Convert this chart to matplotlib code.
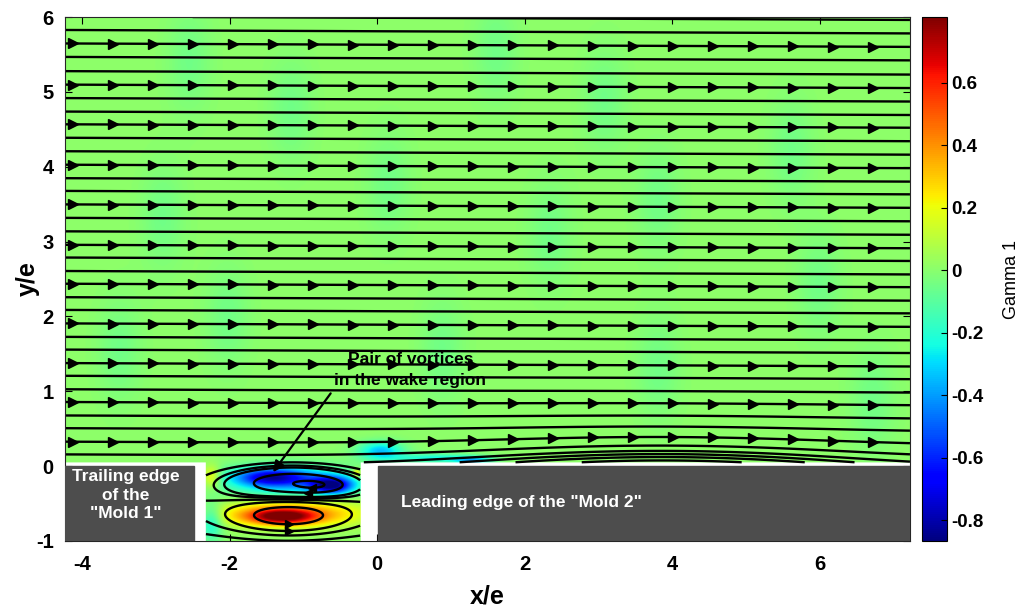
import numpy as np
import matplotlib.pyplot as plt
import matplotlib as mpl

plt.rcParams['font.family'] = ['Liberation Sans', 'DejaVu Sans']
plt.rcParams['axes.unicode_minus'] = False

# frame
x_lim = [-4.23, 7.22]
y_lim = [-1.0, 6.0]
x_ticks = [-4, -2, 0, 2, 4, 6]
y_ticks = [-1, 0, 1, 2, 3, 4, 5, 6]
gamma_lim = [-0.867, 0.81]
gamma_ticks = [-0.8, -0.6, -0.4, -0.2, 0, 0.2, 0.4, 0.6]

# Gamma 1 structures: centre, amplitude, half widths
blob_x = [-1.45, -0.62, -1.20, -1.30, -1.15, -2.25, -2.25, -0.28, 0.05, 0.80, 1.30]
blob_y = [-0.15, -0.26, -0.20, -0.68, -0.64, -0.15, -0.75, -0.10, 0.20, 0.10, 0.07]
blob_amp = [-0.50, -0.75, -0.40, 0.60, 0.40, 0.25, -0.25, 0.30, -0.35, -0.25, -0.30]
blob_sx = [0.45, 0.28, 0.85, 0.45, 0.95, 0.12, 0.15, 0.06, 0.30, 0.60, 0.25]
blob_sy = [0.11, 0.11, 0.20, 0.10, 0.17, 0.15, 0.25, 0.06, 0.12, 0.06, 0.05]
gamma_background = 0.01

# faint light-cyan bands in the free stream
band_x = [-2.55, -1.17, 1.61, 3.08, 0.15, -2.91, 2.34, 5.62, 5.99, -2.03, 0.88, 3.81, 6.72, -3.50, 3.81]
band_y = [5.43, 4.76, 5.56, 4.89, 3.77, 3.33, 3.10, 4.22, 2.43, 1.99, 1.55, 1.32, 0.88, 1.55, 3.56]
band_amp = -0.06

# streamline levels of the outer flow (y/e at seed)
stream_levels = [0.14, 0.31, 0.49, 0.66, 0.84, 1.01, 1.19, 1.36, 1.54, 1.71,
                 1.89, 2.07, 2.24, 2.42, 2.59, 2.77, 2.94, 3.12, 3.30, 3.48,
                 3.66, 3.83, 4.01, 4.19, 4.37, 4.55, 4.72, 4.90, 5.08, 5.26,
                 5.45, 5.63, 5.81, 5.99]
arrow_levels = [0.31, 0.84, 1.36, 1.89, 2.42, 2.94, 3.48, 4.01, 4.55, 5.08, 5.63]
near_wall_levels = [-0.24, -0.14, -0.06, 0.02]
stream_tilt = 0.004
hump_x, hump_w, hump_amp, hump_depth = 3.9, 2.6, 0.45, 0.25

# recirculation in the wake: stream function bumps
vort_x = [-1.15, -0.75, -1.20]
vort_y = [-0.22, -0.26, -0.66]
vort_s = [-0.5, -0.15, 0.5]
vort_ax = [0.90, 0.35, 0.75]
vort_ay = [0.22, 0.10, 0.20]
wake_base = 0.2
wake_levels = [-0.58, -0.40, -0.22, -0.17, -0.10, 0.0, 0.20]
wake_box = [-2.32, -0.22]

# grid
xg = np.linspace(x_lim[0], x_lim[1], 900)
yg = np.linspace(y_lim[0], y_lim[1], 560)
X, Y = np.meshgrid(xg, yg)

gamma = np.full_like(X, gamma_background)
for bx, by, a, sx, sy in zip(blob_x, blob_y, blob_amp, blob_sx, blob_sy):
    gamma += a * np.exp(-((X - bx) / sx) ** 2 - ((Y - by) / sy) ** 2)
for bx, by in zip(band_x, band_y):
    gamma += band_amp * np.exp(-((X - bx) / 0.3) ** 2 - ((Y - by) / 0.7) ** 2)

in_wake = (X > wake_box[0]) & (X < wake_box[1])
no_data = ((X <= wake_box[0]) & (Y < 0.04)) | ((X >= wake_box[1]) & (Y < 0.05))
gamma[no_data] = np.nan

psi = Y + stream_tilt * X - hump_amp * np.exp(-((X - hump_x) / hump_w) ** 2) * np.exp(-Y / hump_depth)
psi = np.ma.masked_where(Y < 0.05, psi)

psi_w = wake_base * Y
for vx, vy, s, ax_, ay_ in zip(vort_x, vort_y, vort_s, vort_ax, vort_ay):
    psi_w = psi_w + s * np.exp(-((X - vx) / ax_) ** 2 - ((Y - vy) / ay_) ** 2)
psi_w = np.ma.masked_where(~in_wake | (Y > 0.06), psi_w)

fig = plt.figure(figsize=(10.23, 6.08), dpi=100)
ax = fig.add_axes([0.0635, 0.1102, 0.826, 0.8618])
cax = fig.add_axes([0.901, 0.1102, 0.0244, 0.8618])

cmap = mpl.colormaps['jet'].copy()
cmap.set_bad('white')
im = ax.imshow(np.ma.masked_invalid(gamma), extent=[x_lim[0], x_lim[1], y_lim[0], y_lim[1]],
               origin='lower', cmap=cmap, vmin=gamma_lim[0], vmax=gamma_lim[1],
               aspect='auto', interpolation='bilinear', zorder=0)

lw = 1.7
cs = ax.contour(X, Y, psi, levels=sorted(near_wall_levels + stream_levels), colors='black',
                linewidths=lw, linestyles='solid', zorder=2)
cw = ax.contour(X, Y, psi_w, levels=wake_levels, colors='black', linewidths=lw,
                linestyles='solid', zorder=2)

# arrow heads on every third outer streamline
arrow_x = np.arange(-4.12, 6.8, 0.542)
all_levels = np.array(cs.levels)
for lev in arrow_levels:
    i = int(np.argmin(np.abs(all_levels - lev)))
    segs = cs.allsegs[i]
    if not segs:
        continue
    seg = max(segs, key=len)
    order = np.argsort(seg[:, 0])
    ya = np.interp(arrow_x, seg[order, 0], seg[order, 1])
    ax.plot(arrow_x, ya, ls='none', marker='>', color='black', markersize=6.5, zorder=3)

# arrow heads on the bottom of each closed wake loop
for lev, segs in zip(cw.levels, cw.allsegs):
    for seg in segs:
        if len(seg) < 10 or np.hypot(*(seg[0] - seg[-1])) > 0.05:
            continue
        lo = seg[np.argmin(seg[:, 1])]
        ax.plot(lo[0], lo[1], ls='none', marker='<' if lev < 0 else '>',
                color='black', markersize=6, zorder=3)

# the two molds
mold_grey = '#4d4d4d'
ax.add_patch(plt.Rectangle((x_lim[0], -1.0), -2.48 - x_lim[0], 1.0, color=mold_grey, zorder=4))
ax.add_patch(plt.Rectangle((0.01, -1.0), x_lim[1] - 0.01, 1.0, color=mold_grey, zorder=4))
ax.text(-3.41, -0.39, 'Trailing edge\nof the\n"Mold 1"', color='white', fontsize=12.5,
        fontweight='bold', ha='center', va='center', linespacing=1.3, zorder=5)
ax.text(0.32, -0.49, 'Leading edge of the "Mold 2"', color='white', fontsize=12.5,
        fontweight='bold', ha='left', va='center', zorder=5)

ax.annotate('Pair of vortices\nin the wake region', xy=(-1.41, -0.08), xytext=(0.45, 1.28),
            fontsize=12.5, fontweight='bold', ha='center', va='center', linespacing=1.5,
            arrowprops=dict(arrowstyle='-|>', color='black', lw=1.6, mutation_scale=16,
                            shrinkA=2, shrinkB=0, relpos=(0.0, 0.0)),
            zorder=6)

ax.set_xlim(x_lim)
ax.set_ylim(y_lim)
ax.set_xticks(x_ticks)
ax.set_yticks(y_ticks)
ax.tick_params(direction='in', top=True, right=True, length=5, labelsize=14.5, pad=10)
ax.tick_params(axis='y', pad=8)
for lab in ax.get_xticklabels() + ax.get_yticklabels():
    lab.set_fontweight('bold')
ax.set_xlabel('x/e', fontsize=18, fontweight='bold', labelpad=8)
ax.set_ylabel('y/e', fontsize=18, fontweight='bold')
ax.yaxis.set_label_coords(-0.03, 0.5)
for sp in ax.spines.values():
    sp.set_color('#262626')
    sp.set_linewidth(0.8)

cb = fig.colorbar(im, cax=cax)
cb.set_ticks(gamma_ticks)
cb.set_ticklabels([f'{v:g}' for v in gamma_ticks])
cax.tick_params(direction='in', length=4, labelsize=13.5)
for lab in cax.get_yticklabels():
    lab.set_fontweight('bold')
cb.set_label('Gamma 1', fontsize=13, labelpad=14)
cb.outline.set_linewidth(0.8)

fig.savefig('out.png', dpi=100)
